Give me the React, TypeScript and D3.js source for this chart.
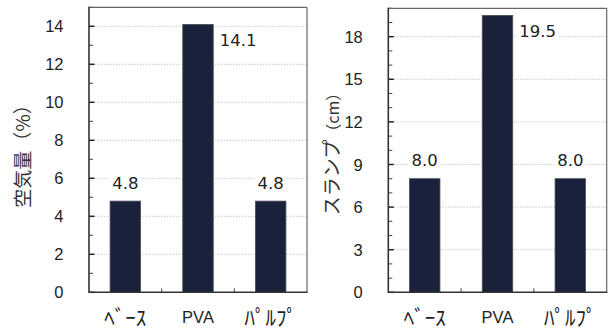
import React from "react";
import * as d3 from "d3";

const categories = ["ﾍﾞｰｽ", "PVA", "ﾊﾟﾙﾌﾟ"];
const airValues = [4.8, 14.1, 4.8];
const slumpValues = [8.0, 19.5, 8.0];
const airTicks = [0, 2, 4, 6, 8, 10, 12, 14];
const slumpTicks = [0, 3, 6, 9, 12, 15, 18];
// label placement: "top" = above bar, "right" = right of bar
const airLabelPos = ["top", "right", "top"];
const slumpLabelPos = ["top", "right", "top"];

const BAR = "#19223a";
const FONT = "'Liberation Sans', Arial, sans-serif";
const VFONT = "'DejaVu Sans', sans-serif";
const JFONT = "'Noto Sans CJK JP', 'Noto Sans', sans-serif";

type PanelProps = {
  x0: number; x1: number; yTop: number; y0: number;
  max: number; ticks: number[]; minorStep: number;
  values: number[]; labelPos: string[];
  title: React.ReactNode;
};

function Panel(p: PanelProps) {
  const x = d3.scaleBand<string>().domain(categories).range([p.x0, p.x1]).paddingInner(0).paddingOuter(0);
  const y = d3.scaleLinear().domain([0, p.max]).range([p.y0, p.yTop]);
  const bw = 30.5;
  const minor = d3.range(0, p.max + 0.001, p.minorStep).filter((v) => !p.ticks.includes(v));
  return (
    <g>
      {p.ticks.filter((t) => t > 0).map((t) => (
        <line key={"g" + t} x1={p.x0} x2={p.x1} y1={y(t)} y2={y(t)} stroke="#c8c8c8" strokeWidth={1} strokeDasharray="1.5,1.5" />
      ))}
      {categories.map((c, i) => {
        const cx = (x(c) as number) + x.bandwidth() / 2;
        const top = y(p.values[i]);
        const label = p.values[i].toFixed(1);
        let lx: number, ly: number, anchor: string;
        if (p.labelPos[i] === "top") {
          lx = cx; ly = top - 12.5; anchor = "middle";
        } else {
          lx = cx + bw / 2 + 6.5; ly = top + 22; anchor = "start";
        }
        const w = label.length * 9.3;
        const rx = anchor === "middle" ? lx - w / 2 - 2 : lx - 2;
        const isLatin = c === "PVA";
        return (
          <g key={c}>
            <rect x={cx - bw / 2} y={top} width={bw} height={p.y0 - top} fill={BAR} stroke="#4a4f5c" strokeWidth={0.8} />
            <rect x={rx} y={ly - 14} width={w + 4} height={17} fill="#fff" />
            <text x={lx} y={ly} textAnchor={anchor} fontFamily={VFONT} fontSize={16.5} fill="#222">{label}</text>
            <text x={cx} y={isLatin ? 322.7 : 325} textAnchor="middle" fontFamily={isLatin ? FONT : JFONT} fontSize={isLatin ? 16.5 : 21} fill="#222">{c}</text>
          </g>
        );
      })}
      {categories.slice(1).map((c) => (
        <line key={"ct" + c} x1={x(c) as number} x2={x(c) as number} y1={p.y0} y2={p.y0 - 4} stroke="#444" strokeWidth={1} />
      ))}
      {minor.map((t) => (
        <line key={"m" + t} x1={p.x0} x2={p.x0 + 4} y1={y(t)} y2={y(t)} stroke="#444" strokeWidth={1} />
      ))}
      {p.ticks.map((t) => (
        <g key={"t" + t}>
          <line x1={p.x0} x2={p.x0 + 5.5} y1={y(t)} y2={y(t)} stroke="#222" strokeWidth={1.5} />
          <text x={p.x0 - 25.5} y={y(t) + 6} textAnchor="end" fontFamily={FONT} fontSize={16.5} fill="#222">{t}</text>
        </g>
      ))}
      <line x1={p.x0} x2={p.x1} y1={p.yTop} y2={p.yTop} stroke="#666" strokeWidth={1.2} />
      <line x1={p.x1} x2={p.x1} y1={p.yTop} y2={p.y0} stroke="#666" strokeWidth={1.2} />
      <line x1={p.x0} x2={p.x0} y1={p.yTop - 0.6} y2={p.y0 + 0.7} stroke="#333" strokeWidth={1.6} />
      <line x1={p.x0} x2={p.x1 + 0.6} y1={p.y0} y2={p.y0} stroke="#333" strokeWidth={1.6} />
      {p.title}
    </g>
  );
}

export default function App() {
  return (
    <div style={{ position: "fixed", left: 0, top: 0 }}>
      <svg width={611} height={332} style={{ display: "block", background: "#fff" }}>
        <Panel
          x0={89} x1={307} yTop={7.3} y0={292.3} max={15} ticks={airTicks} minorStep={1}
          values={airValues} labelPos={airLabelPos}
          title={
            <text transform="translate(30,151.5) rotate(-90)" textAnchor="middle" fontFamily={JFONT} fontSize={19} fill="#333">
              空気量（%）
            </text>
          }
        />
        <Panel
          x0={388.3} x1={606.7} yTop={8.3} y0={292.3} max={20} ticks={slumpTicks} minorStep={1}
          values={slumpValues} labelPos={slumpLabelPos}
          title={
            <text transform="translate(339,150) rotate(-90)" textAnchor="middle" fontFamily={JFONT} fontSize={19} fill="#333">
              スランプ<tspan fontSize={16}>（cm）</tspan>
            </text>
          }
        />
      </svg>
    </div>
  );
}
